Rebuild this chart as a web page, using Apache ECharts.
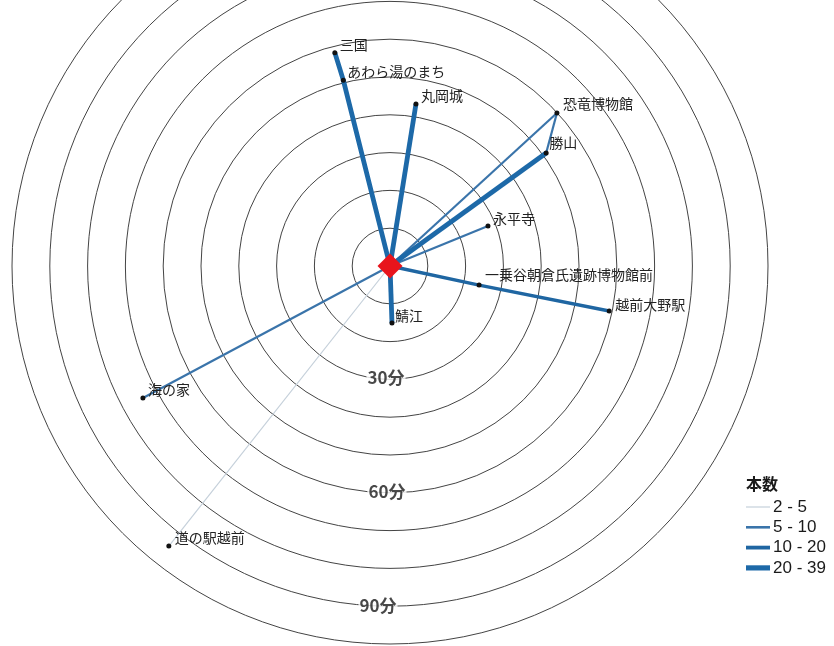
<!DOCTYPE html>
<html><head><meta charset="utf-8">
<script src="https://cdn.jsdelivr.net/npm/echarts@6/dist/echarts.min.js"></script>
<style>html,body{margin:0;padding:0;background:#fff}#c{width:834px;height:646px}</style>
</head><body><div id="c"></div>
<script>
// ---- data ----
const origin = '福井駅';
const places   = ['三国','あわら湯のまち','丸岡城','恐竜博物館','勝山','永平寺','一乗谷朝倉氏遺跡博物館前','越前大野駅','鯖江','海の家','道の駅越前'];
const minutes  = [58.3, 50.7, 43.4, 59.9, 51.0, 28.0, 24.1, 59.2, 15.1, 74.1, 94.4];   // travel time (radius)
const bearings = [104.5, 104.1, 80.9, 42.5, 35.9, 22.2, 347.9, 348.4, 272.0, 208.1, 231.7]; // direction (deg, ccw from east)
const routeStops = [
  ['福井駅','あわら湯のまち','三国'],
  ['福井駅','丸岡城'],
  ['福井駅','恐竜博物館'],
  ['福井駅','勝山'],
  ['勝山','恐竜博物館'],
  ['福井駅','永平寺'],
  ['福井駅','一乗谷朝倉氏遺跡博物館前','越前大野駅'],
  ['福井駅','鯖江'],
  ['福井駅','海の家'],
  ['福井駅','道の駅越前']
];
const routeBand = [3, 3, 1, 3, 1, 1, 2, 3, 1, 0];
const bandLabels = ['2 - 5','5 - 10','10 - 20','20 - 39'];
const legendTitle = '本数';
const ringMinutes = [30, 60, 90];
const ringLabels  = ['30分','60分','90分'];

// ---- styles ----
const bandStyle = [
  {color:'#c5d0da', width:1.2},
  {color:'#3a74aa', width:2.2},
  {color:'#1f66a2', width:3.4},
  {color:'#1d69a8', width:4.8}
];
const labelOffset = {
  '三国':[5,-8], 'あわら湯のまち':[4,-8], '丸岡城':[5,-8], '恐竜博物館':[6,-9], '勝山':[3,-10],
  '永平寺':[5,-7], '一乗谷朝倉氏遺跡博物館前':[6,-10], '越前大野駅':[6,-6], '鯖江':[3,-7],
  '海の家':[5,-8], '道の駅越前':[6,-8]
};
const ringOffset = [[-4,-2],[-3,-1],[-12,-1]];
const FONT = '"Noto Sans CJK JP", sans-serif';

function coord(name){
  if (name === origin) return [0, 0];
  const i = places.indexOf(name);
  return [minutes[i], bearings[i]];
}

const series = [];
routeStops.forEach((stops, k) => {
  const st = bandStyle[routeBand[k]];
  series.push({
    type:'line', coordinateSystem:'polar', symbol:'none', silent:true,
    z: 2 + routeBand[k] * 0.1,
    lineStyle:{color:st.color, width:st.width, cap:'butt'},
    data: stops.map(coord)
  });
});
series.push({
  type:'scatter', coordinateSystem:'polar', symbolSize:5, z:5,
  itemStyle:{color:'#111', opacity:1},
  label:{show:true, position:'right', distance:0, fontFamily:FONT, fontSize:14, color:'#222',
         formatter: p => p.name},
  data: places.map((n,i)=>({name:n, value:[minutes[i], bearings[i]],
        label:{offset:[labelOffset[n][0]-2.5, labelOffset[n][1]]}}))
});
series.push({
  type:'scatter', coordinateSystem:'polar', symbol:'diamond', symbolSize:[25,25], z:6,
  itemStyle:{color:'#e8141c', opacity:1},
  data:[{name:origin, value:[0,0]}]
});
series.push({
  type:'scatter', coordinateSystem:'polar', symbolSize:1, z:4,
  itemStyle:{color:'transparent'},
  label:{show:true, position:'inside', fontFamily:FONT, fontSize:17, fontWeight:'bold', color:'#1a1a1a',
         backgroundColor:'#fff', padding:[0,1], formatter:p=>p.name},
  data: ringMinutes.map((m,i)=>({name:ringLabels[i], value:[m, 270],
        label:{offset:ringOffset[i]}}))
});

// legend drawn as graphic
const lg = [];
lg.push({type:'text', left:746, top:476, style:{text:legendTitle, font:'bold 16px '+FONT, fill:'#1a1a1a'}});
bandLabels.forEach((t,i)=>{
  const y = 507 + i*20.3;
  lg.push({type:'line', shape:{x1:746,y1:y,x2:770,y2:y}, style:{stroke:bandStyle[i].color, lineWidth:bandStyle[i].width+(i===0?0:0.4)}});
  lg.push({type:'text', x:773, y:y, style:{text:t, font:'17px "Liberation Sans", sans-serif', fill:'#1a1a1a', textVerticalAlign:'middle'}});
});

const chart = echarts.init(document.getElementById('c'), null, {renderer:'canvas'});
chart.setOption({
  backgroundColor:'#fff',
  animation:false,
  polar:{center:[390,266], radius:378},
  angleAxis:{type:'value', min:0, max:360, startAngle:0, clockwise:false,
    axisLine:{show:false}, axisTick:{show:false}, axisLabel:{show:false}, splitLine:{show:false}},
  radiusAxis:{type:'value', min:0, max:100, interval:10,
    axisLine:{show:false}, axisTick:{show:false}, axisLabel:{show:false},
    splitLine:{show:true, lineStyle:{color:'#444', width:1}}},
  series: series,
  graphic: lg
});
</script></body></html>
